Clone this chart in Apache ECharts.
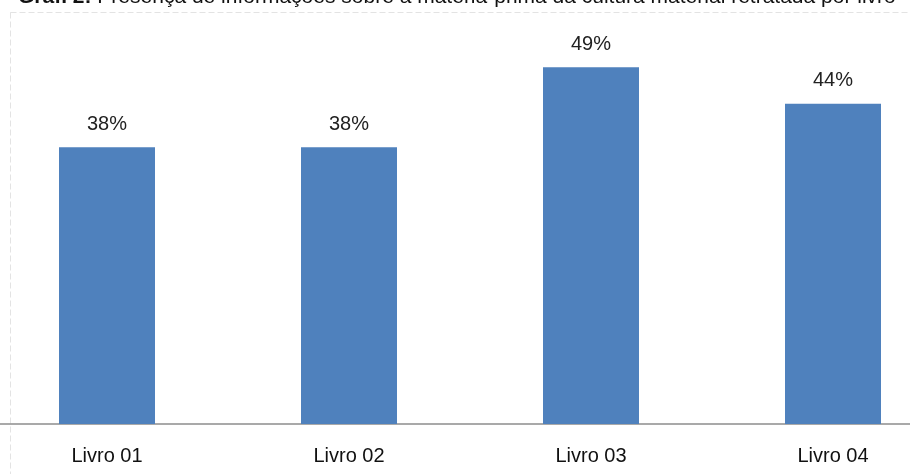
<!DOCTYPE html>
<html>
<head>
<meta charset="utf-8">
<script src="https://cdn.jsdelivr.net/npm/echarts@6/dist/echarts.min.js"></script>
<style>html,body{margin:0;padding:0;background:#fff}#c{width:910px;height:474px}</style>
</head>
<body>
<div id="c"></div>
<script>
const categories = ['Livro 01', 'Livro 02', 'Livro 03', 'Livro 04'];
const values = [38, 38, 49, 44];
const titleBold = 'Graf. 2:';
const titleRest = ' Presença de informações sobre a matéria-prima da cultura material retratada por livro';

const FONT = '"Liberation Sans", Arial, sans-serif';
const chart = echarts.init(document.getElementById('c'));
chart.setOption({
  animation: false,
  backgroundColor: '#fff',
  title: {
    text: '{b|' + titleBold + '}{n|' + titleRest + '}',
    left: 18, top: -13, padding: 0,
    textStyle: {
      rich: {
        b: { fontFamily: FONT, fontSize: 21, fontWeight: 'bold', color: '#111' },
        n: { fontFamily: FONT, fontSize: 21, fontWeight: 'normal', color: '#111' }
      }
    }
  },
  graphic: [{
    type: 'rect', silent: true, z: -1,
    shape: { x: 10.5, y: 12.5, width: 910, height: 470 },
    style: { fill: 'none', stroke: '#e3e3e3', lineWidth: 1, lineDash: [6, 3] }
  }],
  grid: { left: -14, width: 968, top: 60, bottom: 50, containLabel: false, outerBoundsMode: 'none' },
  xAxis: {
    type: 'category', data: categories,
    axisLine: { lineStyle: { color: '#8c8c8c', width: 1.5 } },
    axisTick: { show: false },
    axisLabel: { fontFamily: FONT, fontSize: 20, color: '#111', margin: 22 }
  },
  yAxis: {
    type: 'value', min: 0, max: 50,
    show: false, splitLine: { show: false }
  },
  series: [{
    type: 'bar', data: values, barWidth: 96,
    itemStyle: { color: '#4f81bd' },
    label: {
      show: true, position: 'top', distance: 13, formatter: '{c}%',
      fontFamily: FONT, fontSize: 20, color: '#222'
    }
  }]
});
</script>
</body>
</html>
